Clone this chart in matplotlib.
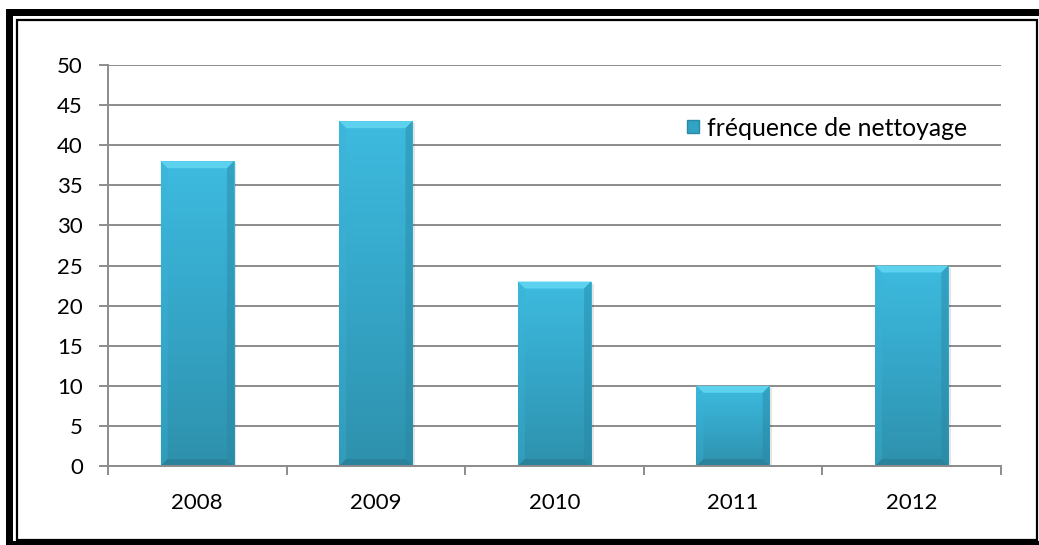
import numpy as np
import matplotlib.pyplot as plt
from matplotlib.patches import Rectangle, Polygon, Patch
from matplotlib.colors import LinearSegmentedColormap

years = ["2008", "2009", "2010", "2011", "2012"]
frequence = [38, 43, 23, 10, 25]
serie = "fréquence de nettoyage"

W, H = 1039, 545
plt.rcParams['font.family'] = ['Lato', 'DejaVu Sans']
fig = plt.figure(figsize=(W / 100, H / 100), dpi=100)


def frame_rect(x0, y0, x1, y1, **kw):
    # pixel box (top-left origin) -> figure rectangle
    r = Rectangle((x0 / W, 1 - y1 / H), (x1 - x0) / W, (y1 - y0) / H,
                  transform=fig.transFigure, **kw)
    fig.add_artist(r)
    return r


# double border of the chart, kept behind the axes
frame_rect(6, 9, 1050, 560, facecolor='black', edgecolor='none', zorder=-10)
frame_rect(13, 16, 1039, 541, facecolor='white', edgecolor='none', zorder=-9)
frame_rect(16.5, 19.5, 1037, 539.5, facecolor='none', edgecolor='black', lw=1.6, zorder=-8)

left, right, top, bottom = 108, 1001, 65, 466
ax = fig.add_axes([left / W, 1 - bottom / H, (right - left) / W, (bottom - top) / H])
ax.set_facecolor('none')

x = np.arange(len(years))
bar_w = 0.41
bars = ax.bar(x, frequence, width=bar_w, color='#37aacd', zorder=3)
ax.set_xlim(-0.5, len(years) - 0.5)
ax.set_ylim(0, 50)

grey = '#8c8c8c'
ax.set_yticks(np.arange(0, 51, 5))
ax.yaxis.grid(True, color=grey, lw=1.4, zorder=0)
ax.set_xticks(x)
ax.set_xticklabels(years)
ax.set_xticks(np.arange(-0.5, len(years), 1), minor=True)
ax.tick_params(axis='x', which='major', length=0, pad=19.5, labelsize=16)
ax.tick_params(axis='x', which='minor', length=6.5, width=1.4, color=grey, direction='out')
ax.tick_params(axis='y', length=6.5, width=1.4, color=grey, pad=11.5, labelsize=16)
for s in ['top', 'right']:
    ax.spines[s].set_visible(False)
for s in ['left', 'bottom']:
    ax.spines[s].set_color(grey)
    ax.spines[s].set_linewidth(1.4)
    ax.spines[s].set_zorder(4)

# bevelled bars
xs = (right - left) / len(years)   # px per x unit
ys = (bottom - top) / 50.0         # px per y unit
bx, by = 7 / xs, 7 / ys
face = LinearSegmentedColormap.from_list('face', ['#2e91ac', '#35a6c8', '#3dbbdf'])
grad = np.linspace(0, 1, 256).reshape(-1, 1)
for b in bars:
    x0, w, h = b.get_x(), b.get_width(), b.get_height()
    x1 = x0 + w
    # soft shadow
    ax.add_patch(Rectangle((x0 + 2.5 / xs, 0), w, h - 2 / ys, facecolor='black',
                           alpha=0.1, edgecolor='none', zorder=2.5))
    im = ax.imshow(grad, extent=[x0, x1, 0, h], origin='lower', cmap=face,
                   aspect='auto', zorder=3.1)
    im.set_clip_path(b)
    ax.add_patch(Polygon([(x0, h), (x1, h), (x1 - bx, h - by), (x0 + bx, h - by)],
                         facecolor='#5dd2ee', edgecolor='none', zorder=3.2))
    ax.add_patch(Polygon([(x0, h), (x0 + bx, h - by), (x0 + bx, by), (x0, 0)],
                         facecolor='#3ab3d6', edgecolor='none', alpha=0.35, zorder=3.2))
    ax.add_patch(Polygon([(x1, h), (x1 - bx, h - by), (x1 - bx, by), (x1, 0)],
                         facecolor='#2886a2', edgecolor='none', alpha=0.45, zorder=3.2))
    ax.add_patch(Polygon([(x0, 0), (x1, 0), (x1 - bx, by), (x0 + bx, by)],
                         facecolor='#2a8099', edgecolor='none', alpha=0.8, zorder=3.2))

ax.legend(handles=[Patch(facecolor='#31a3c4', edgecolor='#2a8aa6')], labels=[serie],
          loc='center left', bbox_to_anchor=(687 / W, 1 - 128 / H),
          bbox_transform=fig.transFigure, frameon=False, fontsize=17.8,
          handlelength=0.5, handleheight=0.4, handletextpad=0.3, borderpad=0,
          borderaxespad=0)

fig.savefig('out.png', dpi=100)
